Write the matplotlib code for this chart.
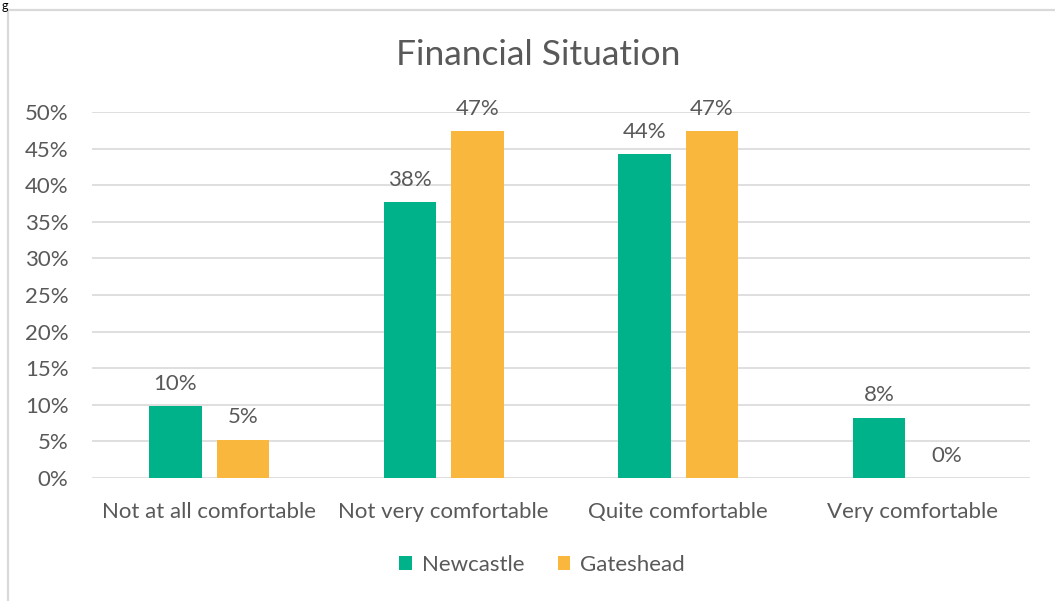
import matplotlib.pyplot as plt
import numpy as np
from matplotlib.patches import Rectangle

categories = ["Not at all comfortable", "Not very comfortable", "Quite comfortable", "Very comfortable"]
newcastle = [9.8, 37.7, 44.2, 8.2]
gateshead = [5.2, 47.4, 47.4, 0.0]
yticks = [0, 5, 10, 15, 20, 25, 30, 35, 40, 45, 50]

green = "#00b28a"
amber = "#f9b73e"
grey = "#595959"
grid = "#d9d9d9"

plt.rcParams["font.family"] = ["Lato", "DejaVu Sans"]

W, H = 1055, 601
fig = plt.figure(figsize=(W / 100, H / 100), dpi=100)

# chart frame, runs off the right and bottom edge
fig.patches.append(Rectangle((8 / W, -0.1), 1.2, 1 - 10 / H + 0.1, transform=fig.transFigure,
                             fill=False, edgecolor=grid, linewidth=1.6))
fig.text(0.002, 1.0, "g", fontsize=9, color="black", va="top", ha="left")

ax = fig.add_axes([92 / W, 1 - 478 / H, (1030 - 92) / W, (478 - 112) / H])

x = np.arange(len(categories))
bw = 0.222
off = 0.144
b1 = ax.bar(x - off, newcastle, bw, color=green, label="Newcastle", zorder=3)
b2 = ax.bar(x + off, gateshead, bw, color=amber, label="Gateshead", zorder=3)

for bars, vals in [(b1, newcastle), (b2, gateshead)]:
    for b, v in zip(bars, vals):
        ax.annotate(f"{v:.0f}%", (b.get_x() + b.get_width() / 2, v), xytext=(0, 9),
                    textcoords="offset points", ha="center", va="bottom",
                    fontsize=16, color=grey)

ax.set_xlim(-0.5, 3.5)
ax.set_ylim(0, 50)
ax.set_yticks(yticks)
ax.set_yticklabels([f"{t}%" for t in yticks])
ax.set_xticks(x)
ax.set_xticklabels(categories)
ax.tick_params(length=0, labelsize=16, labelcolor=grey)
ax.tick_params(axis="x", pad=17)
ax.tick_params(axis="y", pad=17)
ax.grid(axis="y", color=grid, linewidth=1.2, zorder=0)
for s in ax.spines.values():
    s.set_visible(False)

# title is centred on the whole chart box, not the plot area
fig.text(538 / W, 1 - 55 / H, "Financial Situation", fontsize=25.5, color=grey,
         ha="center", va="center")

fig.legend(handles=[b1, b2], loc="center", bbox_to_anchor=(542 / W, 1 - 565 / H), ncol=2,
           frameon=False, fontsize=16, labelcolor=grey, handlelength=0.55, handleheight=0.55,
           handletextpad=0.45, columnspacing=1.5)

fig.savefig("out.png", dpi=100)
